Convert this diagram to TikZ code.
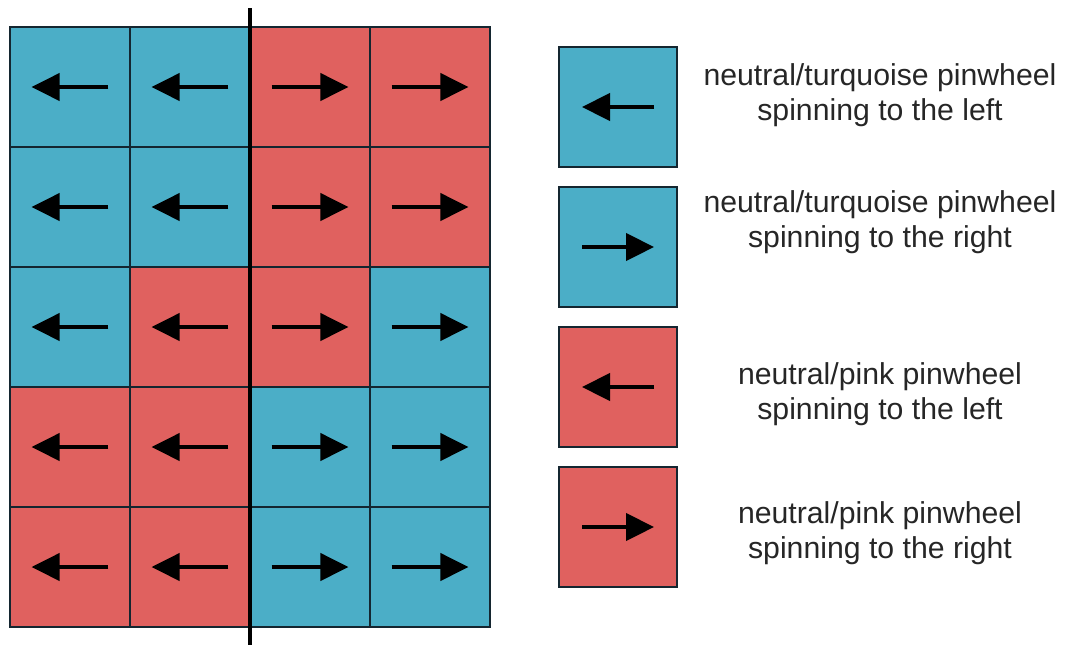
\documentclass[tikz,border=0pt]{standalone}
\usepackage{fontspec}
\setmainfont{Liberation Sans}
\usetikzlibrary{arrows.meta}
\definecolor{turq}{RGB}{75,174,199}
\definecolor{pinkred}{RGB}{224,97,95}
\definecolor{edge}{RGB}{20,38,48}
\begin{document}
\begin{tikzpicture}[x=0.25cm,y=-0.25cm,
        cell/.style={draw=edge,line width=0.035cm,minimum size=3cm,inner sep=0pt},
        tq/.style={cell,fill=turq},
        pk/.style={cell,fill=pinkred},
        key/.style={line width=0.05cm,minimum width=2.95cm,minimum height=3cm},
        spin/.style={line width=0.09cm,-{Triangle[length=0.7cm,width=0.68cm]}},
        keytext/.style={align=center,font=\fontsize{21.5}{24.5}\selectfont,text=black!85}]
\useasboundingbox (0,0) rectangle (108.6,64.5);

% the 4x5 field
\node[tq] (c11) at (7,8.7) {};
\node[tq] (c12) at (19,8.7) {};
\node[pk] (c13) at (31,8.7) {};
\node[pk] (c14) at (43,8.7) {};

\node[tq] (c21) at (7,20.7) {};
\node[tq] (c22) at (19,20.7) {};
\node[pk] (c23) at (31,20.7) {};
\node[pk] (c24) at (43,20.7) {};

\node[tq] (c31) at (7,32.7) {};
\node[pk] (c32) at (19,32.7) {};
\node[pk] (c33) at (31,32.7) {};
\node[tq] (c34) at (43,32.7) {};

\node[pk] (c41) at (7,44.7) {};
\node[pk] (c42) at (19,44.7) {};
\node[tq] (c43) at (31,44.7) {};
\node[tq] (c44) at (43,44.7) {};

\node[pk] (c51) at (7,56.7) {};
\node[pk] (c52) at (19,56.7) {};
\node[tq] (c53) at (31,56.7) {};
\node[tq] (c54) at (43,56.7) {};

% spin directions
\draw[spin] ([xshift=0.96cm]c11.center) -- ([xshift=-0.96cm]c11.center);
\draw[spin] ([xshift=0.96cm]c12.center) -- ([xshift=-0.96cm]c12.center);
\draw[spin] ([xshift=-0.96cm]c13.center) -- ([xshift=0.96cm]c13.center);
\draw[spin] ([xshift=-0.96cm]c14.center) -- ([xshift=0.96cm]c14.center);

\draw[spin] ([xshift=0.96cm]c21.center) -- ([xshift=-0.96cm]c21.center);
\draw[spin] ([xshift=0.96cm]c22.center) -- ([xshift=-0.96cm]c22.center);
\draw[spin] ([xshift=-0.96cm]c23.center) -- ([xshift=0.96cm]c23.center);
\draw[spin] ([xshift=-0.96cm]c24.center) -- ([xshift=0.96cm]c24.center);

\draw[spin] ([xshift=0.96cm]c31.center) -- ([xshift=-0.96cm]c31.center);
\draw[spin] ([xshift=0.96cm]c32.center) -- ([xshift=-0.96cm]c32.center);
\draw[spin] ([xshift=-0.96cm]c33.center) -- ([xshift=0.96cm]c33.center);
\draw[spin] ([xshift=-0.96cm]c34.center) -- ([xshift=0.96cm]c34.center);

\draw[spin] ([xshift=0.96cm]c41.center) -- ([xshift=-0.96cm]c41.center);
\draw[spin] ([xshift=0.96cm]c42.center) -- ([xshift=-0.96cm]c42.center);
\draw[spin] ([xshift=-0.96cm]c43.center) -- ([xshift=0.96cm]c43.center);
\draw[spin] ([xshift=-0.96cm]c44.center) -- ([xshift=0.96cm]c44.center);

\draw[spin] ([xshift=0.96cm]c51.center) -- ([xshift=-0.96cm]c51.center);
\draw[spin] ([xshift=0.96cm]c52.center) -- ([xshift=-0.96cm]c52.center);
\draw[spin] ([xshift=-0.96cm]c53.center) -- ([xshift=0.96cm]c53.center);
\draw[spin] ([xshift=-0.96cm]c54.center) -- ([xshift=0.96cm]c54.center);

% dividing line
\coordinate (top) at (25,0.8);
\coordinate (bot) at (25,64.5);
\draw[line width=0.1cm] (top) -- (bot);

% legend
\node[tq,key] (k1) at (61.8,10.7) {};
\node[tq,key] (k2) at (61.8,24.7) {};
\node[pk,key] (k3) at (61.8,38.7) {};
\node[pk,key] (k4) at (61.8,52.7) {};

\draw[spin] ([xshift=0.9cm]k1.center) -- ([xshift=-0.9cm]k1.center);
\draw[spin] ([xshift=-0.9cm]k2.center) -- ([xshift=0.9cm]k2.center);
\draw[spin] ([xshift=0.9cm]k3.center) -- ([xshift=-0.9cm]k3.center);
\draw[spin] ([xshift=-0.9cm]k4.center) -- ([xshift=0.9cm]k4.center);

\node[keytext] (t1) at (88,9.5) {neutral/turquoise pinwheel\\spinning to the left};
\node[keytext] (t2) at (88,22.2) {neutral/turquoise pinwheel\\spinning to the right};
\node[keytext] (t3) at (88,39.4) {neutral/pink pinwheel\\spinning to the left};
\node[keytext] (t4) at (88,53.3) {neutral/pink pinwheel\\spinning to the right};
\end{tikzpicture}
\end{document}
